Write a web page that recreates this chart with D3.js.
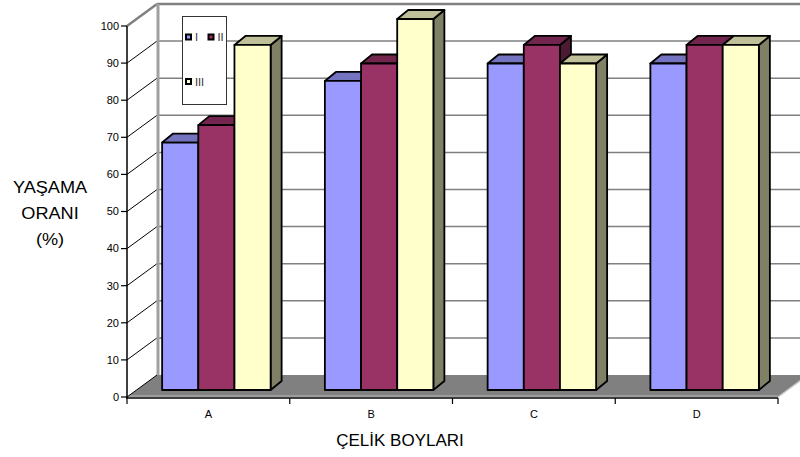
<!DOCTYPE html>
<html>
<head>
<meta charset="utf-8">
<script src="https://cdn.jsdelivr.net/npm/d3@7"></script>
<style>
  html, body { margin: 0; padding: 0; background: #fff; }
  svg text { font-family: "Liberation Sans", Arial, sans-serif; }
</style>
</head>
<body>
<svg id="chart" width="800" height="457"></svg>
<script>
// Survival rate (%) per steel length class, three groups
const categories = ["A", "B", "C", "D"];
const seriesNames = ["I", "II", "III"];
const seriesI   = [66.7, 83.3, 88, 88];
const seriesII  = [71.4, 88, 93, 93];
const seriesIII = [93, 100, 88, 93];
const seriesColors = ["#9999FF", "#993366", "#FFFFCC"];
const yTicks = [0, 10, 20, 30, 40, 50, 60, 70, 80, 90, 100];

const values = [seriesI, seriesII, seriesIII];

const svg = d3.select("#chart");

// front plane scales
const x = d3.scaleBand().domain(categories).range([127, 778]).paddingInner(0).paddingOuter(0);
const xs = d3.scaleBand().domain(seriesNames).range([0, x.bandwidth()]).paddingInner(0).paddingOuter(0.75);
const y = d3.scaleLinear().domain([0, 100]).range([397, 26]);

// depth offsets: wall depth, bar front plane, bar thickness
const wall = { dx: 30, dy: -22 };
const barFront = { dx: 8, dy: -7 };
const barDepth = { dx: 11, dy: -9 };

const shade = (c, k) => {
  const r = d3.rgb(c);
  return d3.rgb(r.r * k, r.g * k, r.b * k).formatHex();
};

// back wall
const wx0 = 127 + wall.dx;
svg.append("rect")
  .attr("x", wx0).attr("y", y(100) + wall.dy)
  .attr("width", 800 - wx0).attr("height", y(0) - y(100))
  .attr("fill", "#fff");

svg.append("g").selectAll("line")
  .data(yTicks.filter(t => t > 0))
  .join("line")
  .attr("x1", wx0).attr("x2", 800)
  .attr("y1", d => y(d) + wall.dy).attr("y2", d => y(d) + wall.dy)
  .attr("stroke", "#808080")
  .attr("stroke-width", d => d === 100 ? 2.5 : 1.5);

// left side wall
svg.append("path")
  .attr("d", d3.line()([[127, y(0)], [wx0, y(0) + wall.dy], [wx0, y(100) + wall.dy], [127, y(100)]]) + "Z")
  .attr("fill", "#fff");

svg.append("g").selectAll("line")
  .data(yTicks.filter(t => t > 0 && t < 100))
  .join("line")
  .attr("x1", 127).attr("y1", d => y(d))
  .attr("x2", wx0).attr("y2", d => y(d) + wall.dy)
  .attr("stroke", "#000").attr("stroke-width", 1);

svg.append("line")
  .attr("x1", 127).attr("y1", y(100))
  .attr("x2", wx0).attr("y2", y(100) + wall.dy)
  .attr("stroke", "#808080").attr("stroke-width", 2.5);

svg.append("line")
  .attr("x1", wx0 + 1).attr("x2", wx0 + 1)
  .attr("y1", y(100) + wall.dy).attr("y2", y(0) + wall.dy)
  .attr("stroke", "#a0a0a0").attr("stroke-width", 3);

// floor
const fx1 = x.range()[1];
svg.append("path")
  .attr("d", d3.line()([[127, y(0)], [fx1, y(0)], [fx1 + wall.dx, y(0) + wall.dy], [wx0, y(0) + wall.dy]]) + "Z")
  .attr("fill", "#808080");
svg.append("line")
  .attr("x1", 127).attr("x2", fx1)
  .attr("y1", y(0) - 1).attr("y2", y(0) - 1)
  .attr("stroke", "#b8b8b8").attr("stroke-width", 1);
svg.append("line")
  .attr("x1", fx1).attr("y1", y(0))
  .attr("x2", fx1 + wall.dx).attr("y2", y(0) + wall.dy)
  .attr("stroke", "#c8c8c8").attr("stroke-width", 1.5);
svg.append("line")
  .attr("x1", 127).attr("y1", y(0))
  .attr("x2", wx0).attr("y2", y(0) + wall.dy)
  .attr("stroke", "#000").attr("stroke-width", 1);

// value axis
svg.append("line")
  .attr("x1", 127).attr("x2", 127)
  .attr("y1", y(100)).attr("y2", y(0) + 1)
  .attr("stroke", "#000").attr("stroke-width", 1.5);
const yt = svg.append("g").selectAll("g").data(yTicks).join("g")
  .attr("transform", d => `translate(0,${y(d)})`);
yt.append("line").attr("x1", 121).attr("x2", 127).attr("stroke", "#000").attr("stroke-width", 1.2);
yt.append("text")
  .attr("x", 119).attr("dy", "0.35em")
  .attr("text-anchor", "end")
  .attr("font-size", 11)
  .attr("fill", "#000")
  .text(d => d);

// category axis
svg.append("line")
  .attr("x1", 126).attr("x2", fx1)
  .attr("y1", y(0) + 1).attr("y2", y(0) + 1)
  .attr("stroke", "#000").attr("stroke-width", 1.5);
svg.append("g").selectAll("line")
  .data(categories.map(c => x(c)).concat([fx1]))
  .join("line")
  .attr("x1", d => d).attr("x2", d => d)
  .attr("y1", y(0) + 1).attr("y2", y(0) + 7)
  .attr("stroke", "#000").attr("stroke-width", 1.2);
svg.append("g").selectAll("text")
  .data(categories)
  .join("text")
  .attr("x", d => x(d) + x.bandwidth() / 2)
  .attr("y", 418)
  .attr("text-anchor", "middle")
  .attr("font-size", 11)
  .text(d => d);

// 3D bars
const bars = [];
categories.forEach((c, ci) => {
  seriesNames.forEach((s, si) => {
    bars.push({ cat: c, ser: s, si, v: values[si][ci] });
  });
});

const bg = svg.append("g")
  .attr("stroke", "#000").attr("stroke-width", 1.8).attr("stroke-linejoin", "round");

bars.forEach(b => {
  const x0 = x(b.cat) + xs(b.ser) + barFront.dx;
  const x1 = x0 + xs.bandwidth();
  const yb = y(0) + barFront.dy;
  const yt = y(b.v) + barFront.dy;
  const dx = barDepth.dx, dy = barDepth.dy;
  const col = seriesColors[b.si];
  const g = bg.append("g");
  // side face
  g.append("path")
    .attr("d", d3.line()([[x1, yb], [x1 + dx, yb + dy], [x1 + dx, yt + dy], [x1, yt]]) + "Z")
    .attr("fill", shade(col, 0.5));
  // top face
  g.append("path")
    .attr("d", d3.line()([[x0, yt], [x0 + dx, yt + dy], [x1 + dx, yt + dy], [x1, yt]]) + "Z")
    .attr("fill", shade(col, 0.75));
  // front face
  g.append("rect")
    .attr("x", x0).attr("y", yt)
    .attr("width", x1 - x0).attr("height", yb - yt)
    .attr("fill", col);
});

// legend
const lg = svg.append("g");
lg.append("rect")
  .attr("x", 182.5).attr("y", 16.5).attr("width", 44).attr("height", 88)
  .attr("fill", "#fff").attr("stroke", "#333").attr("stroke-width", 1);
const legendPos = [
  { mx: 188.5, my: 37, tx: 195 },
  { mx: 211, my: 37, tx: 217.5 },
  { mx: 188.5, my: 81.5, tx: 195 }
];
seriesNames.forEach((s, i) => {
  const p = legendPos[i];
  lg.append("rect")
    .attr("x", p.mx - 2.5).attr("y", p.my - 2.5).attr("width", 5).attr("height", 5)
    .attr("fill", seriesColors[i]).attr("stroke", "#000").attr("stroke-width", 2);
  lg.append("text")
    .attr("x", p.tx).attr("y", p.my).attr("dy", "0.38em")
    .attr("font-size", 11).attr("fill", "#333")
    .text(s);
});

// axis titles
const yTitle = svg.append("text")
  .attr("text-anchor", "middle")
  .attr("font-size", 16.5)
  .attr("transform", "translate(50,0) scale(1.1,1)");
["YAŞAMA", "ORANI", "(%)"].forEach((line, i) => {
  yTitle.append("tspan").attr("x", 0).attr("y", 193 + i * 26).text(line);
});

svg.append("text")
  .attr("x", 400).attr("y", 446)
  .attr("text-anchor", "middle")
  .attr("font-size", 17)
  .text("ÇELİK BOYLARI");
</script>
</body>
</html>
